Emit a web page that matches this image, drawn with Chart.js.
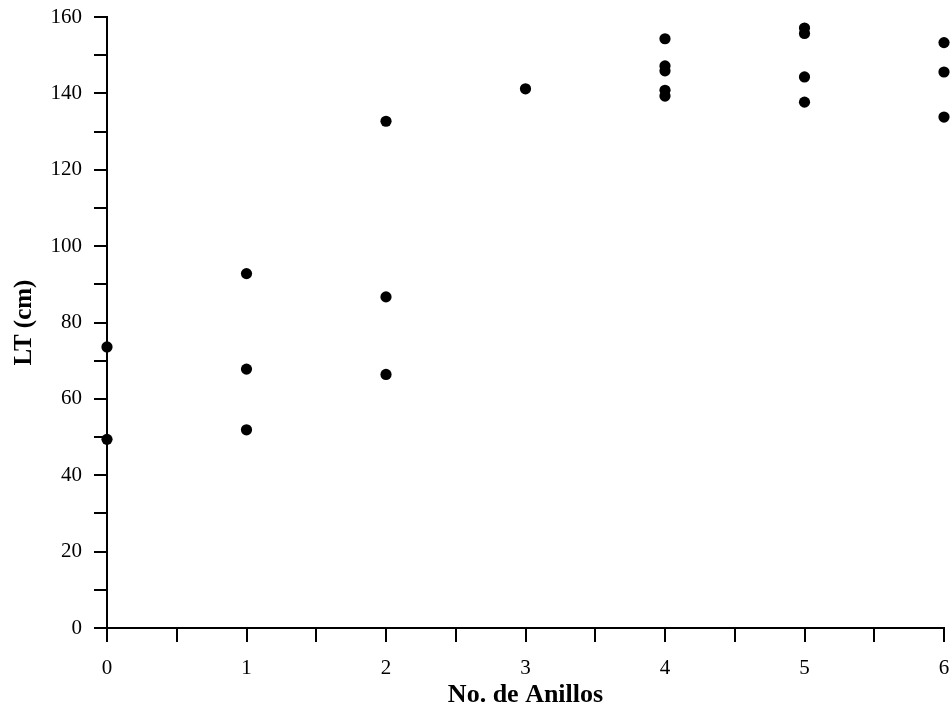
<!DOCTYPE html>
<html>
<head>
<meta charset="utf-8">
<script src="https://cdn.jsdelivr.net/npm/chart.js@4/dist/chart.umd.min.js"></script>
<style>
  html, body { margin: 0; padding: 0; background: #fff; }
  #wrap { width: 951px; height: 706px; }
</style>
</head>
<body>
<div id="wrap"><canvas id="c" width="951" height="706"></canvas></div>
<script>
// Data
const anillos = [0, 0, 1, 1, 1, 2, 2, 2, 3, 4, 4, 4, 4, 4, 5, 5, 5, 5, 6, 6, 6];
const ltCm    = [73.6, 49.4, 92.8, 67.8, 51.9, 132.7, 86.7, 66.4, 141.2,
                 154.3, 147.2, 145.9, 140.8, 139.3, 157.1, 155.7, 144.3, 137.7,
                 153.3, 145.6, 133.8];
const xTickLabels = ['0', '1', '2', '3', '4', '5', '6'];
const yTickLabels = ['0', '20', '40', '60', '80', '100', '120', '140', '160'];
const xTitle = 'No. de Anillos';
const yTitle = 'LT (cm)';

const points = anillos.map((x, i) => ({ x: x, y: ltCm[i] }));
const FONT = "'Liberation Serif', 'DejaVu Serif', serif";

new Chart(document.getElementById('c'), {
  type: 'scatter',
  data: {
    datasets: [{
      data: points,
      backgroundColor: '#000',
      borderColor: '#000',
      pointRadius: 5.6,
      pointHoverRadius: 5.6,
      borderWidth: 0,
      clip: false
    }]
  },
  options: {
    responsive: false,
    animation: false,
    devicePixelRatio: 1,
    layout: { padding: 0 },
    plugins: { legend: { display: false }, tooltip: { enabled: false } },
    scales: {
      x: {
        type: 'linear',
        min: 0, max: 6,
        afterFit: s => { s.height = 78; s.paddingLeft = 0; s.paddingRight = 7; },
        border: { display: true, color: '#000', width: 2 },
        grid: { display: true, drawOnChartArea: false, drawTicks: true, tickLength: 14, color: '#000', lineWidth: 2 },
        ticks: {
          stepSize: 0.5,
          autoSkip: false,
          maxRotation: 0,
          padding: 14,
          color: '#000',
          font: { family: FONT, size: 21 },
          callback: v => Number.isInteger(v) ? xTickLabels[v] : ''
        },
        title: {
          display: true,
          text: xTitle,
          color: '#000',
          font: { family: FONT, size: 26, weight: 'bold', lineHeight: 0.8 },
          padding: { top: 0, bottom: 0 }
        }
      },
      y: {
        type: 'linear',
        min: 0, max: 160,
        afterFit: s => { s.width = 107; s.paddingTop = 17; s.paddingBottom = 0; },
        border: { display: true, color: '#000', width: 2 },
        grid: { display: true, drawOnChartArea: false, drawTicks: true, tickLength: 13, color: '#000', lineWidth: 2 },
        ticks: {
          stepSize: 10,
          autoSkip: false,
          padding: 12,
          color: '#000',
          font: { family: FONT, size: 21 },
          callback: v => (v % 20 === 0) ? yTickLabels[v / 20] : ''
        },
        title: {
          display: true,
          text: yTitle,
          color: '#000',
          font: { family: FONT, size: 25, weight: 'bold' },
          padding: { top: 10, bottom: 0 }
        }
      }
    }
  }
});
</script>
</body>
</html>
